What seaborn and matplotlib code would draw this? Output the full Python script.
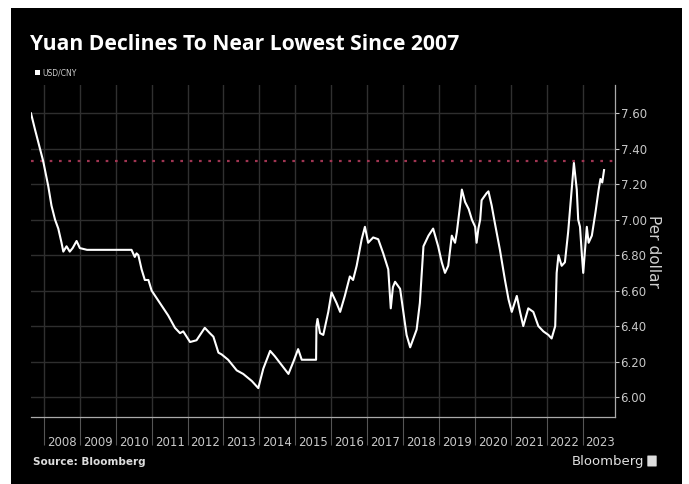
import matplotlib
matplotlib.use("Agg")
import matplotlib.pyplot as plt
import matplotlib.patches as mpatches
import matplotlib.ticker as mticker
import numpy as np
import pandas as pd
import seaborn as sns

# ---- data (decimal year, USD/CNY) ----
years = [
    2007.64, 2007.75, 2007.89, 2007.98, 2008.12, 2008.21, 2008.31, 2008.40, 2008.49, 2008.54,
    2008.63, 2008.72, 2008.80, 2008.91, 2009.00, 2009.20, 2009.37, 2009.55, 2009.75, 2009.95,
    2010.12, 2010.30, 2010.44, 2010.53, 2010.58, 2010.63, 2010.72, 2010.81, 2010.91, 2011.00,
    2011.23, 2011.46, 2011.65, 2011.79, 2011.88, 2012.07, 2012.25, 2012.48, 2012.62, 2012.72,
    2012.86, 2012.95, 2013.13, 2013.37, 2013.55, 2013.79, 2013.97, 2014.11, 2014.30, 2014.43,
    2014.62, 2014.81, 2014.95, 2015.08, 2015.18, 2015.35, 2015.50, 2015.58, 2015.59, 2015.62,
    2015.69, 2015.78, 2015.92, 2016.01, 2016.15, 2016.25, 2016.38, 2016.52, 2016.61, 2016.71,
    2016.85, 2016.94, 2017.03, 2017.17, 2017.31, 2017.45, 2017.59, 2017.66, 2017.72, 2017.78,
    2017.92, 2018.01, 2018.10, 2018.20, 2018.29, 2018.38, 2018.47, 2018.57, 2018.71, 2018.84,
    2018.98, 2019.08, 2019.17, 2019.26, 2019.36, 2019.45, 2019.50, 2019.59, 2019.64, 2019.73,
    2019.83, 2019.92, 2020.01, 2020.05, 2020.10, 2020.15, 2020.19, 2020.33, 2020.38, 2020.47,
    2020.56, 2020.70, 2020.84, 2020.94, 2021.03, 2021.17, 2021.26, 2021.35, 2021.49, 2021.63,
    2021.77, 2021.91, 2022.05, 2022.14, 2022.24, 2022.28, 2022.33, 2022.42, 2022.51, 2022.60,
    2022.70, 2022.76, 2022.84, 2022.88, 2022.93, 2022.98, 2023.02, 2023.07, 2023.12, 2023.17,
    2023.26, 2023.36, 2023.45, 2023.50, 2023.55, 2023.60,
]
usd_cny = [
    7.60, 7.51, 7.40, 7.33, 7.19, 7.08, 7.00, 6.95, 6.87, 6.82,
    6.85, 6.82, 6.84, 6.88, 6.84, 6.83, 6.83, 6.83, 6.83, 6.83,
    6.83, 6.83, 6.83, 6.79, 6.81, 6.80, 6.72, 6.66, 6.66, 6.60,
    6.53, 6.46, 6.39, 6.36, 6.37, 6.31, 6.32, 6.39, 6.36, 6.34,
    6.25, 6.24, 6.21, 6.15, 6.13, 6.09, 6.05, 6.16, 6.26, 6.23,
    6.18, 6.13, 6.20, 6.27, 6.21, 6.21, 6.21, 6.21, 6.40, 6.44,
    6.36, 6.35, 6.48, 6.59, 6.53, 6.48, 6.57, 6.68, 6.66, 6.74,
    6.89, 6.96, 6.87, 6.90, 6.89, 6.81, 6.72, 6.50, 6.62, 6.65,
    6.61, 6.48, 6.35, 6.28, 6.33, 6.38, 6.53, 6.85, 6.91, 6.95,
    6.85, 6.76, 6.70, 6.74, 6.91, 6.87, 6.93, 7.08, 7.17, 7.10,
    7.06, 7.00, 6.96, 6.87, 6.95, 7.00, 7.11, 7.15, 7.16, 7.08,
    6.98, 6.83, 6.66, 6.55, 6.48, 6.57, 6.48, 6.40, 6.50, 6.48,
    6.40, 6.37, 6.35, 6.33, 6.40, 6.70, 6.80, 6.74, 6.76, 6.93,
    7.17, 7.32, 7.17, 7.00, 6.96, 6.81, 6.70, 6.83, 6.96, 6.87,
    6.91, 7.04, 7.17, 7.23, 7.21, 7.28,
]
ref_level = 7.33
year_labels = [str(y) for y in range(2008, 2024)]
y_ticks = [6.00, 6.20, 6.40, 6.60, 6.80, 7.00, 7.20, 7.40, 7.60]

title = "Yuan Declines To Near Lowest Since 2007"
legend_label = "USD/CNY"
y_label = "Per dollar"
source = "Source: Bloomberg"

df = pd.DataFrame({"year": years, "rate": usd_cny})

# ---- figure ----
W, H = 689, 484
fig = plt.figure(figsize=(W / 100, H / 100), dpi=100, facecolor="white")
fig.patches.append(mpatches.Rectangle((11 / W, 0), (682 - 11) / W, (H - 8) / H,
                                      transform=fig.transFigure, facecolor="black",
                                      edgecolor="none", zorder=-10))

ax_l, ax_r, ax_t, ax_b = 31, 615, 85, 417
ax = fig.add_axes([ax_l / W, (H - ax_b) / H, (ax_r - ax_l) / W, (ax_b - ax_t) / H])
ax.set_facecolor("black")

sns.lineplot(data=df, x="year", y="rate", ax=ax, color="white", linewidth=1.5,
             estimator=None, sort=False, zorder=5)
ax.axhline(ref_level, color="#a03552", linestyle=(0, (1.2, 3)), linewidth=1.6, zorder=4)

ax.set_xlim(2007.64, 2023.905)
ax.set_ylim(5.887, 7.76)

# y axis on right
ax.yaxis.tick_right()
ax.yaxis.set_label_position("right")
ax.set_yticks(y_ticks)
ax.yaxis.set_major_formatter(mticker.FormatStrFormatter("%.2f"))
ax.tick_params(axis="y", colors="#c8c8c8", labelsize=8.5, length=3, width=0.8, pad=1)
ax.set_ylabel(y_label, color="#d0d0d0", fontsize=11, rotation=270, labelpad=10)
ax.grid(axis="y", color="#2e2e2e", linewidth=1.0)

# x axis: year separators as major ticks, labels at mid-year
ax.set_xticks(list(range(2008, 2024)))
ax.set_xticks([y + 0.5 for y in range(2008, 2024)], minor=True)
ax.set_xticklabels([])
ax.set_xticklabels(year_labels, minor=True)
ax.tick_params(axis="x", which="major", length=20, width=0.8, colors="#555555", direction="out")
ax.tick_params(axis="x", which="minor", length=0, labelsize=8.5, labelcolor="#c8c8c8", pad=14)
ax.grid(axis="x", which="major", color="#303030", linewidth=1.0)
ax.set_xlabel("")

for side in ["top", "left"]:
    ax.spines[side].set_visible(False)
ax.spines["right"].set_color("#aaaaaa")
ax.spines["bottom"].set_color("#aaaaaa")
ax.spines["right"].set_linewidth(0.9)
ax.spines["bottom"].set_linewidth(0.9)

# texts
fig.text(30 / W, 1 - 45 / H, title, color="white", fontsize=15.2, fontweight="bold",
         va="center", ha="left", family="Open Sans")
fig.patches.append(mpatches.Rectangle((35 / W, 1 - 75 / H), 5 / W, 5 / H,
                                      transform=fig.transFigure, facecolor="white",
                                      edgecolor="none"))
fig.text(42 / W, 1 - 72.5 / H, legend_label, color="#cccccc", fontsize=5.5,
         va="center", ha="left")
fig.text(33 / W, 1 - 462 / H, source, color="#dddddd", fontsize=7.5, fontweight="bold",
         va="center", ha="left")
fig.text(644 / W, 1 - 461 / H, "Bloomberg", color="#e0e0e0", fontsize=9.5,
         va="center", ha="right")
fig.patches.append(mpatches.FancyBboxPatch((648 / W, 1 - 466 / H), 8 / W, 10 / H,
                                           boxstyle="round,pad=0.001",
                                           transform=fig.transFigure, facecolor="#dddddd",
                                           edgecolor="none"))

fig.savefig("out.png", dpi=100, facecolor="white")
